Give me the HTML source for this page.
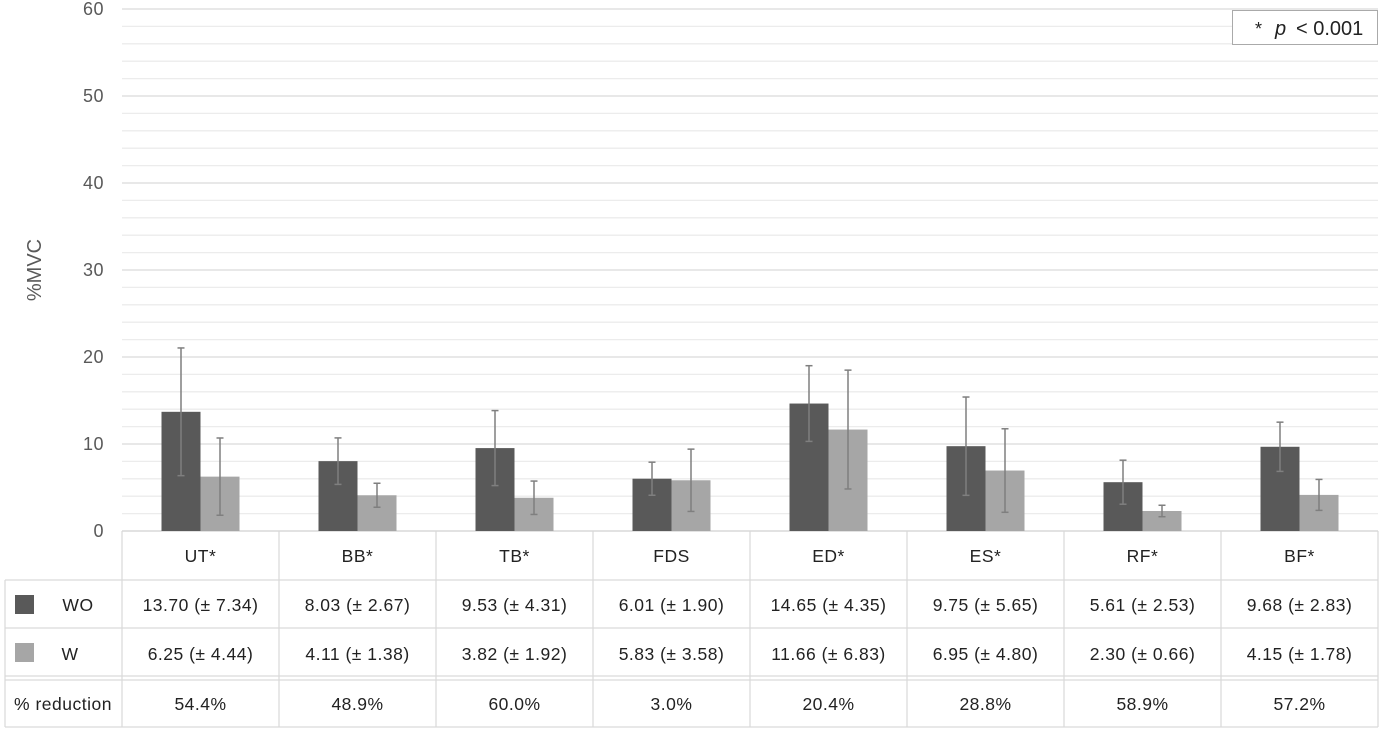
<!DOCTYPE html>
<html><head><meta charset="utf-8"><style>
body{margin:0;background:#fff}
svg{display:block;font-family:"Liberation Sans",sans-serif}
</style></head><body>
<svg id="s" width="1385" height="734" viewBox="0 0 1385 734" xmlns="http://www.w3.org/2000/svg">
<g id="grid"></g>
<g fill="#595959" font-size="18" text-anchor="end" letter-spacing="0.5">
<text x="104" y="15">60</text><text x="104" y="102">50</text><text x="104" y="189">40</text>
<text x="104" y="276">30</text><text x="104" y="363">20</text><text x="104" y="450">10</text><text x="104" y="537">0</text>
</g>
<text transform="translate(41,270) rotate(-90)" fill="#595959" font-size="20" text-anchor="middle">%MVC</text>
<g id="bars"></g>
<rect x="1232.5" y="10.5" width="145" height="34" fill="#fff" stroke="#aaa"/>
<text x="1255" y="35" font-size="18" fill="#222">*</text>
<text x="1275" y="35" font-size="20" fill="#222" font-style="italic">p</text>
<text x="1296" y="35" font-size="20" fill="#222">&lt; 0.001</text>
<g stroke="#d9d9d9" stroke-width="1.2" id="tbl"></g>
<g font-size="17.5" fill="#222" text-anchor="middle" letter-spacing="0.5">
<text x="200.5" y="562">UT*</text><text x="357.5" y="562">BB*</text><text x="514.5" y="562">TB*</text><text x="671.5" y="562">FDS</text>
<text x="828.5" y="562">ED*</text><text x="985.5" y="562">ES*</text><text x="1142.5" y="562">RF*</text><text x="1299.5" y="562">BF*</text>
<text x="200.5" y="611">13.70 (± 7.34)</text><text x="357.5" y="611">8.03 (± 2.67)</text><text x="514.5" y="611">9.53 (± 4.31)</text><text x="671.5" y="611">6.01 (± 1.90)</text>
<text x="828.5" y="611">14.65 (± 4.35)</text><text x="985.5" y="611">9.75 (± 5.65)</text><text x="1142.5" y="611">5.61 (± 2.53)</text><text x="1299.5" y="611">9.68 (± 2.83)</text>
<text x="200.5" y="660">6.25 (± 4.44)</text><text x="357.5" y="660">4.11 (± 1.38)</text><text x="514.5" y="660">3.82 (± 1.92)</text><text x="671.5" y="660">5.83 (± 3.58)</text>
<text x="828.5" y="660">11.66 (± 6.83)</text><text x="985.5" y="660">6.95 (± 4.80)</text><text x="1142.5" y="660">2.30 (± 0.66)</text><text x="1299.5" y="660">4.15 (± 1.78)</text>
<text x="200.5" y="710">54.4%</text><text x="357.5" y="710">48.9%</text><text x="514.5" y="710">60.0%</text><text x="671.5" y="710">3.0%</text>
<text x="828.5" y="710">20.4%</text><text x="985.5" y="710">28.8%</text><text x="1142.5" y="710">58.9%</text><text x="1299.5" y="710">57.2%</text>
<text x="78" y="611">WO</text><text x="70" y="660">W</text>
<text x="63" y="710">% reduction</text>
</g>
<rect x="15" y="595" width="19" height="19" fill="#595959"/>
<rect x="15" y="643" width="19" height="19" fill="#a6a6a6"/>
</svg>
<script>
var NS="http://www.w3.org/2000/svg";
function el(p,t,a){var e=document.createElementNS(NS,t);for(var k in a)e.setAttribute(k,a[k]);document.getElementById(p).appendChild(e);}
function Y(v){return 531-8.7*v;}
for(var v=2;v<=60;v+=2){el("grid","line",{x1:122,x2:1378,y1:Y(v),y2:Y(v),stroke:v%10==0?"#d9d9d9":"#ececec","stroke-width":1.3});}
el("grid","line",{x1:122,x2:1378,y1:531,y2:531,stroke:"#d0d0d0","stroke-width":1.3});
var wo=[13.70,8.03,9.53,6.01,14.65,9.75,5.61,9.68],ws=[7.34,2.67,4.31,1.90,4.35,5.65,2.53,2.83];
var w=[6.25,4.11,3.82,5.83,11.66,6.95,2.30,4.15],wsd=[4.44,1.38,1.92,3.58,6.83,4.80,0.66,1.78];
function err(x,m,s){el("bars","line",{x1:x,x2:x,y1:Y(m-s),y2:Y(m+s),stroke:"#7f7f7f","stroke-width":1.5});
[m-s,m+s].forEach(function(q){el("bars","line",{x1:x-3.5,x2:x+3.5,y1:Y(q),y2:Y(q),stroke:"#7f7f7f","stroke-width":1.5});});}
for(var i=0;i<8;i++){var c=200.5+157*i;
el("bars","rect",{x:c-39,y:Y(wo[i]),width:39,height:8.7*wo[i],fill:"#595959"});
el("bars","rect",{x:c,y:Y(w[i]),width:39,height:8.7*w[i],fill:"#a6a6a6"});
err(c-19.5,wo[i],ws[i]);err(c+19.5,w[i],wsd[i]);}
for(var i=0;i<=8;i++){var x=122+157*i;el("tbl","line",{x1:x,x2:x,y1:531,y2:727});}
el("tbl","line",{x1:5,x2:5,y1:580,y2:727});
[580,628,676,680,727].forEach(function(y){el("tbl","line",{x1:5,x2:1378,y1:y,y2:y});});
</script>
</body></html>
